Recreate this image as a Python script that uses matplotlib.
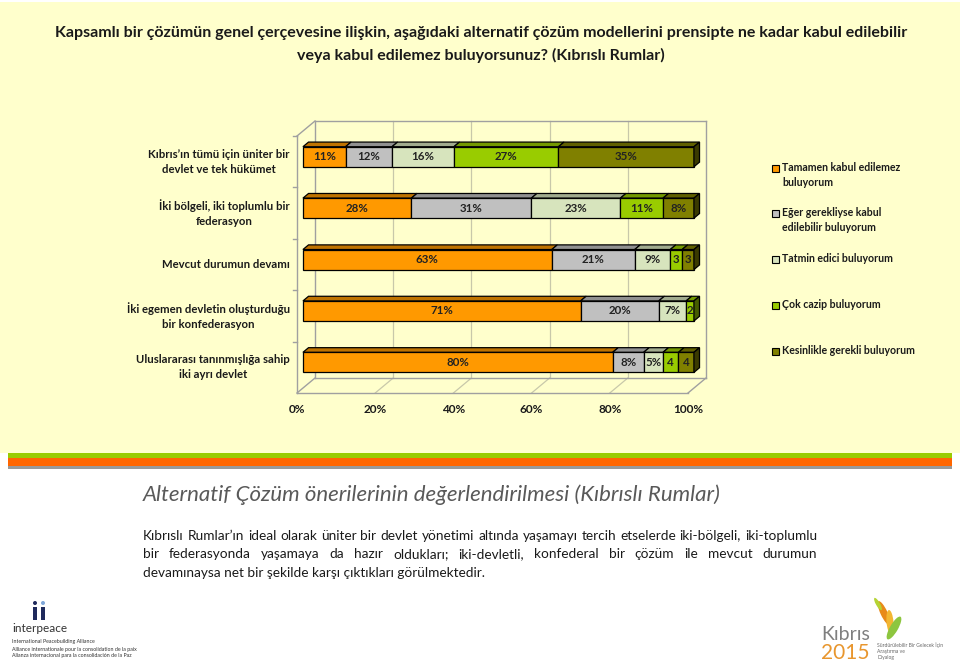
import matplotlib
matplotlib.use('Agg')
import matplotlib.pyplot as plt
from matplotlib.patches import Polygon, Rectangle, Ellipse
from matplotlib.colors import to_rgb

# ---------------- data ----------------
categories = ["Kıbrıs’ın tümü için üniter bir\ndevlet ve tek hükümet",
              "İki bölgeli, iki toplumlu bir\nfederasyon",
              "Mevcut durumun devamı",
              "İki egemen devletin oluşturduğu\nbir konfederasyon",
              "Uluslararası tanınmışlığa sahip\niki ayrı devlet"]
series_names = ["Tamamen kabul edilemez\nbuluyorum",
                "Eğer gerekliyse kabul\nedilebilir buluyorum",
                "Tatmin edici buluyorum",
                "Çok cazip buluyorum",
                "Kesinlikle gerekli buluyorum"]
tamamen = [11, 28, 63, 71, 80]
gerekliyse = [12, 31, 21, 20, 8]
tatmin = [16, 23, 9, 7, 5]
cazip = [27, 11, 3, 2, 4]
kesinlikle = [35, 8, 3, 0, 4]
series_values = [tamamen, gerekliyse, tatmin, cazip, kesinlikle]
xticks = [0, 20, 40, 60, 80, 100]
colors = ['#FF9900', '#C0C0C0', '#D7E4BD', '#99CC00', '#808000']

title1 = "Kapsamlı bir çözümün genel çerçevesine ilişkin, aşağıdaki alternatif çözüm modellerini prensipte ne kadar kabul edilebilir"
title2 = "veya kabul edilemez buluyorsunuz? (Kıbrıslı Rumlar)"
subtitle = "Alternatif Çözüm önerilerinin değerlendirilmesi (Kıbrıslı Rumlar)"
body = ["Kıbrıslı Rumlar’ın ideal olarak üniter bir devlet yönetimi altında yaşamayı tercih etselerde iki-bölgeli, iki-toplumlu",
        "bir federasyonda yaşamaya da hazır oldukları; iki-devletli, konfederal bir çözüm ile mevcut durumun",
        "devamınaysa net bir şekilde karşı çıktıkları görülmektedir."]

FONT = 'Lato'
plt.rcParams['font.family'] = [FONT, 'DejaVu Sans']

W, H = 960, 669
fig = plt.figure(figsize=(W / 100, H / 100), dpi=100)
fig.patch.set_facecolor('white')

# background axes in pixel coordinates (decoration)
bg = fig.add_axes([0, 0, 1, 1], zorder=0)
bg.set_xlim(0, W)
bg.set_ylim(H, 0)
bg.axis('off')
bg.add_patch(Rectangle((0, 2), W, 451, facecolor='#FFFFCC', edgecolor='none'))
bg.add_patch(Rectangle((8, 453), 944, 5, facecolor='#99CC00', edgecolor='none'))
bg.add_patch(Rectangle((8, 458), 944, 8, facecolor='#FF6600', edgecolor='none'))
bg.add_patch(Rectangle((8, 466), 944, 3, facecolor='#999999', edgecolor='none'))

tc = '#1A1A1A'
bg.text(481, 33, title1, ha='center', va='center', fontsize=11.5, fontweight='bold', color=tc)
bg.text(481, 55, title2, ha='center', va='center', fontsize=11.5, fontweight='bold', color=tc)

# ---------------- chart axes ----------------
x0p, x1p, yfloor, ytop = 297, 688, 393, 136
ax = fig.add_axes([x0p / W, (H - yfloor) / H, (x1p - x0p) / W, (yfloor - ytop) / H], zorder=2)
ax.set_xlim(0, 100)
ax.set_ylim(0, len(categories))
ax.axis('off')

NC = len(categories)
DX = 18 / (x1p - x0p) * 100
DY = 15 / (yfloor - ytop) * NC
D1, D2 = 0.33, 0.64
BH = 0.39


def P(x, y, d):
    return (x + d * DX, y + d * DY)


def shade(c, f):
    r, g, b = to_rgb(c)
    return (r * f, g * f, b * f)


frame = '#A0A0A0'
grid = '#C8C8AA'
# gridlines on back wall and floor
for xt in xticks[1:-1]:
    ax.plot(*zip(P(xt, 0, 1), P(xt, NC, 1)), color=grid, lw=0.9, clip_on=False, zorder=1)
    ax.plot(*zip(P(xt, 0, 0), P(xt, 0, 1)), color=grid, lw=0.9, clip_on=False, zorder=1)
# frame lines
for a, b in [(P(0, 0, 1), P(0, NC, 1)), (P(0, NC, 1), P(100, NC, 1)), (P(100, NC, 1), P(100, 0, 1)),
             (P(0, 0, 1), P(100, 0, 1)), (P(0, 0, 0), P(100, 0, 0)), (P(100, 0, 0), P(100, 0, 1)),
             (P(0, 0, 0), P(0, 0, 1)), (P(0, 0, 0), P(0, NC, 0)), (P(0, NC, 0), P(0, NC, 1))]:
    ax.plot([a[0], b[0]], [a[1], b[1]], color=frame, lw=1.0, clip_on=False, zorder=1)
# tick marks between categories on left wall
for k in range(1, NC + 1):
    ax.plot([-1.1, 0], [k, k], color=frame, lw=1.0, clip_on=False, zorder=1)

# bars
for i, cat in enumerate(categories):
    yc = NC - i - 0.5
    vals = [s[i] for s in series_values]
    tot = sum(vals)
    yb, yt = yc - BH / 2, yc + BH / 2
    left = 0.0
    last_j = max(j for j, v in enumerate(vals) if v > 0)
    for j, v in enumerate(vals):
        if v <= 0:
            continue
        w = v / tot * 100
        xa, xb = left, left + w
        c = colors[j]
        # top face
        ax.add_patch(Polygon([P(xa, yt, D1), P(xb, yt, D1), P(xb, yt, D2), P(xa, yt, D2)],
                             closed=True, facecolor=shade(c, 0.75), edgecolor='black', lw=0.9,
                             clip_on=False, zorder=3))
        # front face
        ax.add_patch(Polygon([P(xa, yb, D1), P(xb, yb, D1), P(xb, yt, D1), P(xa, yt, D1)],
                             closed=True, facecolor=c, edgecolor='black', lw=0.9,
                             clip_on=False, zorder=4))
        if j == last_j:
            ax.add_patch(Polygon([P(xb, yb, D1), P(xb, yt, D1), P(xb, yt, D2), P(xb, yb, D2)],
                                 closed=True, facecolor=shade(c, 0.45), edgecolor='black', lw=0.9,
                                 clip_on=False, zorder=4))
        lab = f"{v}%" if v >= 5 else f"{v}"
        cx, cy = P((xa + xb) / 2, yc, D1)
        ax.text(cx, cy, lab, ha='center', va='center', fontsize=8.3, fontweight='bold',
                color='#222222', zorder=5, clip_on=False)
        left = xb
    # category label
    lx, ly = P(0, yc, 0)
    ax.text(lx - 1.8, ly, cat, ha='right', va='center', multialignment='center',
            fontsize=8.2, fontweight='bold', color=tc, linespacing=1.45)

# x tick labels
for xt in xticks:
    ax.text(xt, -0.33, f"{xt}%", ha='center', va='center', fontsize=8.5, fontweight='bold', color=tc,
            clip_on=False)

# legend
leg_y = [168, 213, 259, 305, 351]
for name, c, ly in zip(series_names, colors, leg_y):
    bg.add_patch(Rectangle((772, ly - 3.5), 7, 7, facecolor=c, edgecolor='black', lw=0.8, zorder=3))
    bg.text(782, ly - 6, name, ha='left', va='top', fontsize=7.6, fontweight='bold', color=tc,
            linespacing=1.45, zorder=3)

# subtitle and body
bg.text(143, 495, subtitle, ha='left', va='center', fontsize=16, fontstyle='italic',
        color='#595959')

renderer = fig.canvas.get_renderer()


def justify(line, xa, xb, y, fs):
    words = line.split(' ')
    texts = [bg.text(0, y, w, ha='left', va='center', fontsize=fs, color=tc) for w in words]
    inv = bg.transData.inverted()
    widths = []
    for t in texts:
        e = t.get_window_extent(renderer)
        p0 = inv.transform((e.x0, e.y0))
        p1 = inv.transform((e.x1, e.y0))
        widths.append(p1[0] - p0[0])
    gap = (xb - xa - sum(widths)) / (len(words) - 1)
    x = xa
    for t, wdt in zip(texts, widths):
        t.set_x(x)
        x += wdt + gap


FS = 9.8
body_y = [536, 554, 573]
justify(body[0], 143, 817, body_y[0], FS)
justify(body[1], 143, 817, body_y[1], FS)
bg.text(143, body_y[2], body[2], ha='left', va='center', fontsize=FS, color=tc)

# logos (approximation)
bg.add_patch(Ellipse((35, 603), 4, 4, facecolor='#1F2A5C', edgecolor='none'))
bg.add_patch(Rectangle((33, 607), 3.5, 13, facecolor='#1F2A5C', edgecolor='none'))
bg.add_patch(Ellipse((43, 603), 4, 4, facecolor='#7FA7D9', edgecolor='none'))
bg.add_patch(Rectangle((41, 607), 3.5, 13, facecolor='#1F2A5C', edgecolor='none'))
bg.text(12, 629, "interpeace", ha='left', va='center', fontsize=8.5, color='#333333')
for k, s in enumerate(["International Peacebuilding Alliance",
                       "Alliance internationale pour la consolidation de la paix",
                       "Alianza internacional para la consolidación de la Paz"]):
    bg.text(12, 642 + k * 7, s, ha='left', va='center', fontsize=3.8, color='#333333')

bg.add_patch(Ellipse((884, 613), 7, 26, angle=-25, facecolor='#E88A1A', edgecolor='none'))
bg.add_patch(Ellipse((890, 622), 7, 24, angle=-5, facecolor='#F2B632', edgecolor='none'))
bg.add_patch(Ellipse((894, 628), 8, 26, angle=30, facecolor='#8DC63F', edgecolor='none'))
bg.add_patch(Ellipse((878, 604), 4, 14, angle=-30, facecolor='#B5D334', edgecolor='none'))
bg.text(821, 634, "Kıbrıs", ha='left', va='center', fontsize=14, color='#7F7F7F')
bg.text(821, 653, "2015", ha='left', va='center', fontsize=15, color='#E8962E')
for k, s in enumerate(["Sürdürülebilir Bir Gelecek İçin", "Araştırma ve", "Diyalog"]):
    bg.text(877, 645 + k * 6, s, ha='left', va='center', fontsize=3.6, color='#666666')

fig.savefig('out.png', dpi=100, facecolor=fig.get_facecolor())
